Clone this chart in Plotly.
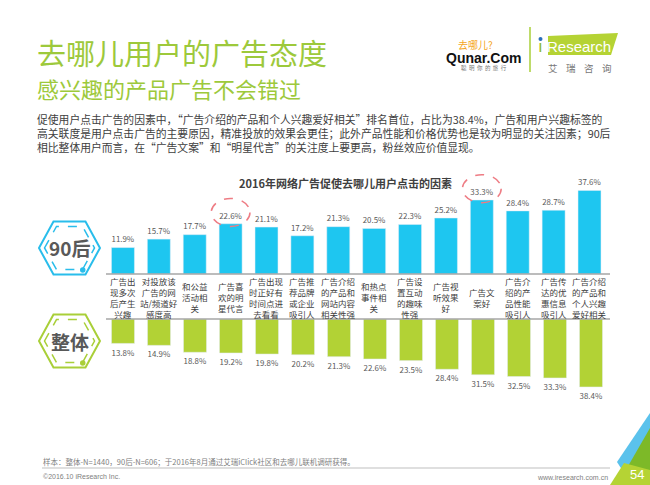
#!/usr/bin/env python3
"""
去哪儿用户的广告态度 - 90后 vs 整体 ad click factors (iResearch slide 54)
"""

import plotly.graph_objects as go

W, H = 650, 485

# categories, left to right
categories = [
    "广告出现多次后产生兴趣", "对投放该广告的网站/频道好感度高", "和公益活动相关",
    "广告喜欢的明星代言", "广告出现时正好有时间点进去看看", "广告推荐品牌或企业吸引人",
    "广告介绍的产品和网站内容相关性强", "和热点事件相关", "广告设置互动的趣味性强",
    "广告视听效果好", "广告文案好", "广告介绍的产品性能吸引人",
    "广告传达的优惠信息吸引人", "广告介绍的产品和个人兴趣爱好相关",
]
# wrapped the way the slide wraps them
category_lines = [
    ["广告出", "现多次", "后产生", "兴趣"],
    ["对投放该", "广告的网", "站/频道好", "感度高"],
    ["和公益", "活动相", "关"],
    ["广告喜", "欢的明", "星代言"],
    ["广告出现", "时正好有", "时间点进", "去看看"],
    ["广告推", "荐品牌", "或企业", "吸引人"],
    ["广告介绍", "的产品和", "网站内容", "相关性强"],
    ["和热点", "事件相", "关"],
    ["广告设", "置互动", "的趣味", "性强"],
    ["广告视", "听效果", "好"],
    ["广告文", "案好"],
    ["广告介", "绍的产", "品性能", "吸引人"],
    ["广告传", "达的优", "惠信息", "吸引人"],
    ["广告介绍", "的产品和", "个人兴趣", "爱好相关"],
]
post90_values = [11.9, 15.7, 17.7, 22.6, 21.1, 17.2, 21.3, 20.5, 22.3, 25.2, 33.3, 28.4, 28.7, 37.6]
overall_values = [13.8, 14.9, 18.8, 19.2, 19.8, 20.2, 21.3, 22.6, 23.5, 28.4, 31.5, 32.5, 33.3, 38.4]
highlighted = [3, 10]  # 明星代言 / 广告文案 circled on the 90后 row

BLUE = "#1EC6F0"
GREEN = "#B2D235"
TITLE_GREEN = "#9DC93B"
TEXT = "#404040"
FONT = "Noto Sans CJK SC"


def px(x):
    return x / W


def py(y):
    return 1 - y / H


def poly(pts):
    return "M " + " L ".join(f"{px(x):.4f},{py(y):.4f}" for x, y in pts) + " Z"


def hexagon(cx, cy, hw, hh, top):
    return poly([(cx - hw, cy), (cx - top, cy - hh), (cx + top, cy - hh),
                 (cx + hw, cy), (cx + top, cy + hh), (cx - top, cy + hh)])


def note(x, y, text, size, color=TEXT, family=FONT, xanchor="center", yanchor="middle", **kw):
    # paper annotation placed in pixel coords (explicit anchors, never 'auto')
    return dict(x=px(x), y=py(y), xref="paper", yref="paper", showarrow=False,
                text=text, xanchor=xanchor, yanchor=yanchor, borderpad=0,
                font=dict(size=size, color=color, family=family), **kw)


fig = go.Figure()

fig.add_trace(go.Bar(
    x=categories, y=post90_values, marker_color=BLUE, xaxis="x", yaxis="y",
    texttemplate="%{y:.1f}%", textposition="outside", cliponaxis=False,
    textfont=dict(size=10.5, color="#595959"), hoverinfo="skip",
))
fig.add_trace(go.Bar(
    x=categories, y=overall_values, marker_color=GREEN, xaxis="x2", yaxis="y2",
    texttemplate="%{y:.1f}%", textposition="outside", cliponaxis=False,
    textfont=dict(size=10.5, color="#595959"), hoverinfo="skip",
))

shapes = []
annotations = []

# baselines
for yy in (274, 319):
    shapes.append(dict(type="line", xref="paper", yref="paper",
                       x0=px(106), x1=px(610), y0=py(yy), y1=py(yy),
                       line=dict(color="#A6A6A6", width=1.5)))

# dashed circles round the highlighted 90后 labels
for i in highlighted:
    v = post90_values[i]
    shapes.append(dict(type="circle", xref="x", yref="y",
                       x0=i - 0.54, x1=i + 0.54, y0=v - 1.2, y1=v + 11.4,
                       line=dict(color="#EE7C84", width=1.5, dash="dash")))

# hexagon badges
for cy, col, label in ((248, "#29BDEB", "90后"), (341, "#A9CF38", "整体")):
    shapes.append(dict(type="path", xref="paper", yref="paper",
                       path=hexagon(69.5, cy, 30.5, 26.5, 16), line=dict(color=col, width=2)))
    shapes.append(dict(type="path", xref="paper", yref="paper",
                       path=hexagon(69.5, cy, 25, 21.5, 13), line=dict(color=col, width=1.5, dash="dash")))
    shapes.append(dict(type="circle", xref="paper", yref="paper",
                       x0=px(80), x1=px(85.5), y0=py(cy + 24.8), y1=py(cy + 19.3),
                       fillcolor=col, line=dict(width=0)))
    annotations.append(note(69.5, cy, f"<b>{label}</b>", 19, color="#595959"))

# category labels between the two rows
for cat, lines in zip(categories, category_lines):
    annotations.append(dict(x=cat, y=py(297), xref="x", yref="paper", showarrow=False,
                            text="<br>".join(lines), xanchor="center", yanchor="middle",
                            font=dict(size=8.5, color=TEXT, family=FONT)))

# headings
annotations += [
    note(36, 52, "去哪儿用户的广告态度", 29, color=TITLE_GREEN, xanchor="left"),
    note(36, 88, "感兴趣的产品广告不会错过", 22, color=TITLE_GREEN, xanchor="left"),
    note(36, 133,
         "促使用户点击广告的因素中，“广告介绍的产品和个人兴趣爱好相关”排名首位，占比为38.4%，广告和用户兴趣标签的<br>"
         "高关联度是用户点击广告的主要原因，精准投放的效果会更佳；此外产品性能和价格优势也是较为明显的关注因素；90后<br>"
         "相比整体用户而言，在“广告文案”和“明星代言”的关注度上要更高，粉丝效应价值显现。",
         10.8, xanchor="left", align="left"),
    note(345, 183, "<b>2016年网络广告促使去哪儿用户点击的因素</b>", 11),
]

# logos
shapes.append(dict(type="line", xref="paper", yref="paper", x0=px(530), x1=px(530),
                   y0=py(27), y1=py(72), line=dict(color="#A9CF38", width=1.5)))
shapes.append(dict(type="path", xref="paper", yref="paper",
                   path=poly([(548, 36), (618, 33), (611, 55), (548, 55)]),
                   fillcolor="#B5D334", line=dict(width=0)))
shapes.append(dict(type="circle", xref="paper", yref="paper", x0=px(538.5), x1=px(542.5),
                   y0=py(41), y1=py(37), fillcolor="#2A6EBB", line=dict(width=0)))
annotations += [
    note(475, 44, "去哪儿?", 10, color="#F5A623"),
    note(484, 57.5, "<b>Qunar.Com</b>", 14, color="#111111", family="Liberation Sans"),
    note(484, 68.5, "聪  明  你  的  旅  行", 5.5, color="#777777"),
    note(540.5, 47, "ı", 17, color="#8DB92E", family="Liberation Sans"),
    note(579, 46, "Research", 15, color="white", family="Liberation Sans"),
    note(580, 68, "艾    瑞    咨    询", 9.5, color="#777777"),
]

# footer
shapes.append(dict(type="line", xref="paper", yref="paper", x0=px(42), x1=px(610),
                   y0=py(468), y1=py(468), line=dict(color="#BFBFBF", width=1)))
annotations += [
    note(42, 461, "样本：整体-N=1440，90后-N=606；于2016年8月通过艾瑞iClick社区和去哪儿联机调研获得。",
         7.5, color="#808080", xanchor="left"),
    note(42, 476.5, "©2016.10 iResearch Inc.", 7, color="#808080", family="Liberation Sans", xanchor="left"),
    note(609, 477, "www.iresearch.com.cn", 7, color="#808080", family="Liberation Sans", xanchor="right"),
]

# corner decoration + page number
shapes += [
    dict(type="path", xref="paper", yref="paper", path=poly([(617, 462), (650, 413), (650, 485), (632, 485)]),
         fillcolor="#5BC2EC", line=dict(width=0)),
    dict(type="path", xref="paper", yref="paper", path=poly([(627, 468), (650, 428), (650, 485), (632, 485)]),
         fillcolor="#7DB928", line=dict(width=0)),
    dict(type="path", xref="paper", yref="paper", path=poly([(610, 485), (624, 463), (650, 470), (650, 485)]),
         fillcolor="#B5D334", line=dict(width=0)),
]
annotations.append(note(637, 474, "54", 13, color="white", family="Liberation Sans"))

axis_off = dict(showgrid=False, zeroline=False, showticklabels=False, showline=False,
                ticks="", fixedrange=True)

fig.update_layout(
    width=W, height=H, margin=dict(l=0, r=0, t=0, b=0),
    paper_bgcolor="white", plot_bgcolor="rgba(0,0,0,0)",
    showlegend=False, bargap=0.36,
    font=dict(family=FONT, color=TEXT),
    xaxis=dict(domain=[px(105), px(609)], anchor="y", **axis_off),
    yaxis=dict(domain=[py(274), py(170)], range=[0, 46.8], anchor="x", **axis_off),
    xaxis2=dict(domain=[px(105), px(609)], anchor="y2", **axis_off),
    yaxis2=dict(domain=[py(419), py(319)], range=[56.5, 0], anchor="x2", **axis_off),
    shapes=shapes, annotations=annotations,
)

# page body has an 8px default margin; drop it so the figure sits at 0,0
fig.write_html("out.html", config={"displayModeBar": False},
               post_script="document.body.style.margin='0px';")
